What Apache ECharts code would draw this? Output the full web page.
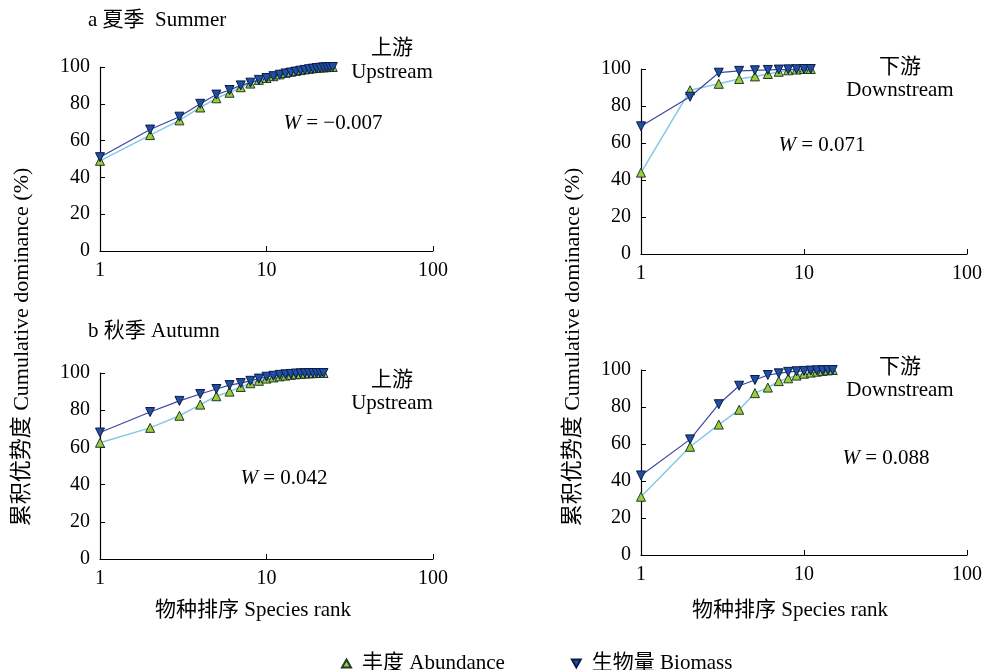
<!DOCTYPE html>
<html>
<head>
<meta charset="utf-8">
<title>Cumulative dominance</title>
<script src="https://cdn.jsdelivr.net/npm/echarts@6/dist/echarts.min.js"></script>
<style>
  html, body { margin: 0; padding: 0; background: #fff; }
  #chart { width: 985px; height: 670px; }
</style>
</head>
<body>
<div id="chart"></div>
<script>
// cumulative dominance (%) by species rank
var summerUpAbund = [49, 63, 71, 78, 83, 86, 89, 91, 93, 94, 95, 96, 96.8, 97.4, 97.9, 98.3, 98.7, 99, 99.3, 99.5, 99.7, 99.8, 99.9, 100, 100];
var summerUpBio   = [51, 66, 73, 80, 85, 87.5, 90, 91.5, 93, 94, 95, 95.8, 96.5, 97, 97.5, 98, 98.4, 98.8, 99.1, 99.4, 99.6, 99.8, 99.9, 100, 100];
var summerDownAbund = [44, 88.5, 92, 94.6, 96, 97.3, 98.5, 99.3, 99.7, 100, 100];
var summerDownBio   = [69, 85, 98, 99, 99.3, 99.5, 99.7, 99.8, 99.9, 100, 100];
var autumnUpAbund = [62.5, 70.5, 77, 83, 87.5, 90, 92.5, 94.5, 95.8, 97, 97.6, 98.2, 98.6, 99, 99.3, 99.5, 99.7, 99.8, 99.9, 100, 100, 100];
var autumnUpBio   = [68, 79, 85, 88.7, 91.4, 93.5, 94.6, 95.8, 97, 98, 98.5, 99, 99.3, 99.5, 99.7, 99.8, 99.9, 100, 100, 100, 100, 100];
var autumnDownAbund = [31.5, 58.5, 70.5, 78.5, 87.5, 90.5, 94, 95.5, 97, 98, 98.6, 99.1, 99.5, 99.8, 100];
var autumnDownBio   = [43, 62.5, 81.5, 91.5, 94.6, 97.3, 98.2, 99, 99.3, 99.5, 99.7, 99.8, 99.9, 100, 100];

var yTicks = [0, 20, 40, 60, 80, 100];
var xTicks = [1, 10, 100];

var FONT = "'Liberation Serif', 'Noto Sans CJK SC', serif";
var NAME_AB = '丰度 Abundance';
var NAME_BIO = '生物量 Biomass';

var myChart = echarts.init(document.getElementById('chart'));

var grids = [
  { left: 100, right: 552, top: 67, bottom: 419 },
  { left: 641, right: 17, top: 69, bottom: 416 },
  { left: 100, right: 552, top: 373, bottom: 111 },
  { left: 641, right: 17, top: 370, bottom: 115 }
];

function ranked(arr) {
  var out = [];
  for (var i = 0; i < arr.length; i++) out.push([i + 1, arr[i]]);
  return out;
}

var xAxes = [], yAxes = [];
for (var g = 0; g < 4; g++) {
  xAxes.push({
    type: 'log', logBase: 10, min: xTicks[0], max: xTicks[xTicks.length - 1], gridIndex: g,
    axisLine: { lineStyle: { color: '#000', width: 1.2 } },
    axisTick: { inside: true, length: 5, lineStyle: { color: '#000' } },
    minorTick: { show: false },
    splitLine: { show: false },
    axisLabel: { color: '#000', fontSize: 20, fontFamily: FONT, margin: 10 }
  });
  yAxes.push({
    type: 'value', min: yTicks[0], max: yTicks[yTicks.length - 1], interval: 20, gridIndex: g,
    axisLine: { show: true, lineStyle: { color: '#000', width: 1.2 } },
    axisTick: { show: true, inside: true, length: 5, lineStyle: { color: '#000' } },
    splitLine: { show: false },
    axisLabel: { color: '#000', fontSize: 20, fontFamily: FONT, margin: 10 }
  });
}

var abundSets = [summerUpAbund, summerDownAbund, autumnUpAbund, autumnDownAbund];
var bioSets = [summerUpBio, summerDownBio, autumnUpBio, autumnDownBio];
var series = [];
for (var k = 0; k < 4; k++) {
  series.push({
    name: NAME_AB, type: 'line', xAxisIndex: k, yAxisIndex: k,
    data: ranked(abundSets[k]),
    symbol: 'triangle', symbolSize: 9,
    itemStyle: { color: '#9ccc3c', borderColor: '#1d3b2a', borderWidth: 1 },
    lineStyle: { color: '#86c8e6', width: 1.5 },
    z: 2
  });
  series.push({
    name: NAME_BIO, type: 'line', xAxisIndex: k, yAxisIndex: k,
    data: ranked(bioSets[k]),
    symbol: 'triangle', symbolRotate: 180, symbolSize: 9,
    itemStyle: { color: '#1f4fa0', borderColor: '#0c1a4a', borderWidth: 1 },
    lineStyle: { color: '#3a46a0', width: 1.2 },
    z: 3
  });
}

function txt(x, y, s, extra) {
  var o = {
    type: 'text', x: x, y: y,
    style: { text: s, fill: '#000', font: '21px ' + FONT, align: 'center', verticalAlign: 'middle' }
  };
  if (extra) for (var key in extra) o.style[key] = extra[key];
  return o;
}
function wText(x, y, s) {
  return {
    type: 'text', x: x, y: y,
    style: {
      text: '{i|W} = ' + s, fill: '#000', font: '21px ' + FONT, align: 'center', verticalAlign: 'middle',
      rich: { i: { fontStyle: 'italic', fontSize: 21, fontFamily: FONT } }
    }
  };
}

var graphics = [
  txt(88, 20, 'a 夏季  Summer', { align: 'left' }),
  txt(88, 331, 'b 秋季 Autumn', { align: 'left' }),
  txt(392, 48, '上游'), txt(392, 72, 'Upstream'),
  txt(900, 67, '下游'), txt(900, 90, 'Downstream'),
  txt(392, 380, '上游'), txt(392, 403, 'Upstream'),
  txt(900, 367, '下游'), txt(900, 390, 'Downstream'),
  wText(333, 123, '\u22120.007'),
  wText(822, 145, '0.071'),
  wText(284, 478, '0.042'),
  wText(886, 458, '0.088'),
  txt(253, 610, '物种排序 Species rank'),
  txt(790, 610, '物种排序 Species rank'),
  { type: 'text', x: 22, y: 347, rotation: Math.PI / 2,
    style: { text: '累积优势度 Cumulative dominance (%)', fill: '#000', font: '22px ' + FONT, align: 'center', verticalAlign: 'middle' } },
  { type: 'text', x: 573, y: 347, rotation: Math.PI / 2,
    style: { text: '累积优势度 Cumulative dominance (%)', fill: '#000', font: '22px ' + FONT, align: 'center', verticalAlign: 'middle' } }
];

var option = {
  animation: false,
  backgroundColor: '#fff',
  textStyle: { fontFamily: FONT },
  grid: grids,
  xAxis: xAxes,
  yAxis: yAxes,
  legend: {
    left: 336, top: 648, itemGap: 66, itemWidth: 9, itemHeight: 8,
    textStyle: { color: '#000', fontSize: 21, fontFamily: FONT, padding: [0, 0, 0, 6] },
    data: [
      { name: NAME_AB, icon: 'triangle' },
      { name: NAME_BIO, icon: 'path://M0,0 L10,0 L5,9 Z' }
    ]
  },
  graphic: graphics,
  series: series
};

myChart.setOption(option);
</script>
</body>
</html>
